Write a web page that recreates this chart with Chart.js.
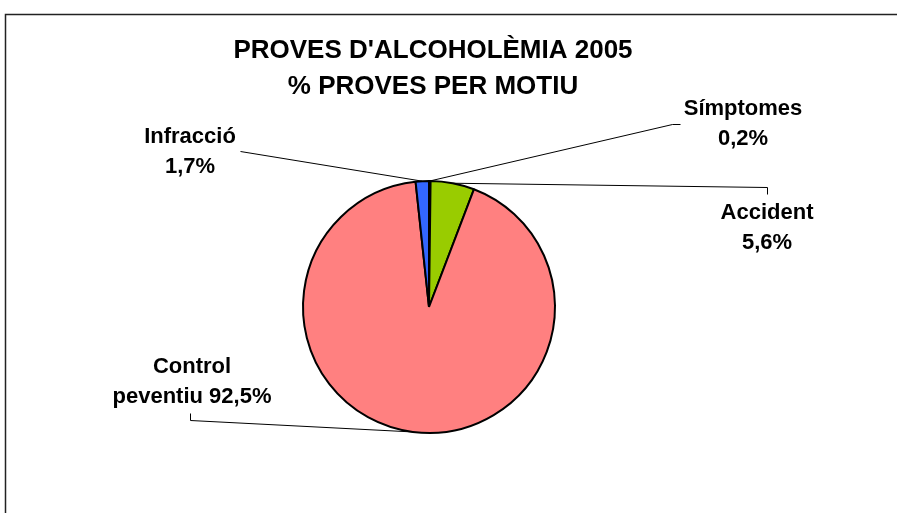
<!DOCTYPE html>
<html>
<head>
<meta charset="utf-8">
<script src="https://cdn.jsdelivr.net/npm/chart.js@4"></script>
<style>
  body { margin: 0; background: #fff; }
</style>
</head>
<body>
<canvas id="pie" width="897" height="513"></canvas>
<script>
// data
const categories = ['Símptomes', 'Accident', 'Control preventiu', 'Infracció'];
const values = [0.2, 5.6, 92.5, 1.7];
const valueLabels = ['0,2%', '5,6%', '92,5%', '1,7%'];
const sliceColors = ['#1a1a1a', '#99CC00', '#FF8080', '#3366FF'];
const titleLines = ["PROVES D'ALCOHOLÈMIA 2005", '% PROVES PER MOTIU'];

// label layout (text centre + leader path ending near the text)
const labelLayout = [
  { lines: ['Símptomes', '0,2%'], x: 743, y: 109, path: [[672, 124], [680, 124]] },
  { lines: ['Accident', '5,6%'], x: 767, y: 213, path: [[767, 187], [767, 194]] },
  { lines: ['Control', 'peventiu 92,5%'], x: 192, y: 367, path: [[190, 420], [190, 413]] },
  { lines: ['Infracció', '1,7%'], x: 190, y: 137, path: [[240, 151]] }
];

const decor = {
  id: 'decor',
  beforeDraw(chart) {
    const c = chart.ctx;
    c.save();
    c.fillStyle = '#fff';
    c.fillRect(0, 0, chart.width, chart.height);
    // frame
    c.strokeStyle = '#222';
    c.lineWidth = 1.5;
    c.beginPath();
    c.moveTo(5.5, chart.height);
    c.lineTo(5.5, 14.5);
    c.lineTo(chart.width, 14.5);
    c.stroke();
    // title
    c.fillStyle = '#000';
    c.font = 'bold 26px "Liberation Sans", Arial, sans-serif';
    c.textAlign = 'center';
    c.textBaseline = 'middle';
    c.fillText(titleLines[0], 433, 51);
    c.fillText(titleLines[1], 433, 87);
    c.restore();
  },
  afterDraw(chart) {
    const c = chart.ctx;
    const arcs = chart.getDatasetMeta(0).data;
    c.save();
    c.strokeStyle = '#000';
    c.lineWidth = 1;
    arcs.forEach((arc, i) => {
      const p = arc.getProps(['x', 'y', 'startAngle', 'endAngle', 'outerRadius'], true);
      const mid = (p.startAngle + p.endAngle) / 2;
      const sx = p.x + p.outerRadius * Math.cos(mid);
      const sy = p.y + p.outerRadius * Math.sin(mid);
      const lay = labelLayout[i];
      c.beginPath();
      c.moveTo(sx, sy);
      lay.path.forEach(pt => c.lineTo(pt[0] + 0.5, pt[1] + 0.5));
      c.stroke();
      c.fillStyle = '#000';
      c.font = 'bold 22px "Liberation Sans", Arial, sans-serif';
      c.textAlign = 'center';
      c.textBaseline = 'middle';
      lay.lines.forEach((t, k) => c.fillText(t, lay.x, lay.y + k * 30));
    });
    c.restore();
  }
};

new Chart(document.getElementById('pie'), {
  type: 'pie',
  data: {
    labels: categories,
    datasets: [{
      data: values,
      backgroundColor: sliceColors,
      borderColor: '#000',
      borderWidth: 2
    }]
  },
  options: {
    responsive: false,
    animation: false,
    events: [],
    layout: { padding: { left: 302, right: 341, top: 180, bottom: 79 } },
    plugins: {
      legend: { display: false },
      title: { display: false },
      tooltip: { enabled: false }
    }
  },
  plugins: [decor]
});
</script>
</body>
</html>
